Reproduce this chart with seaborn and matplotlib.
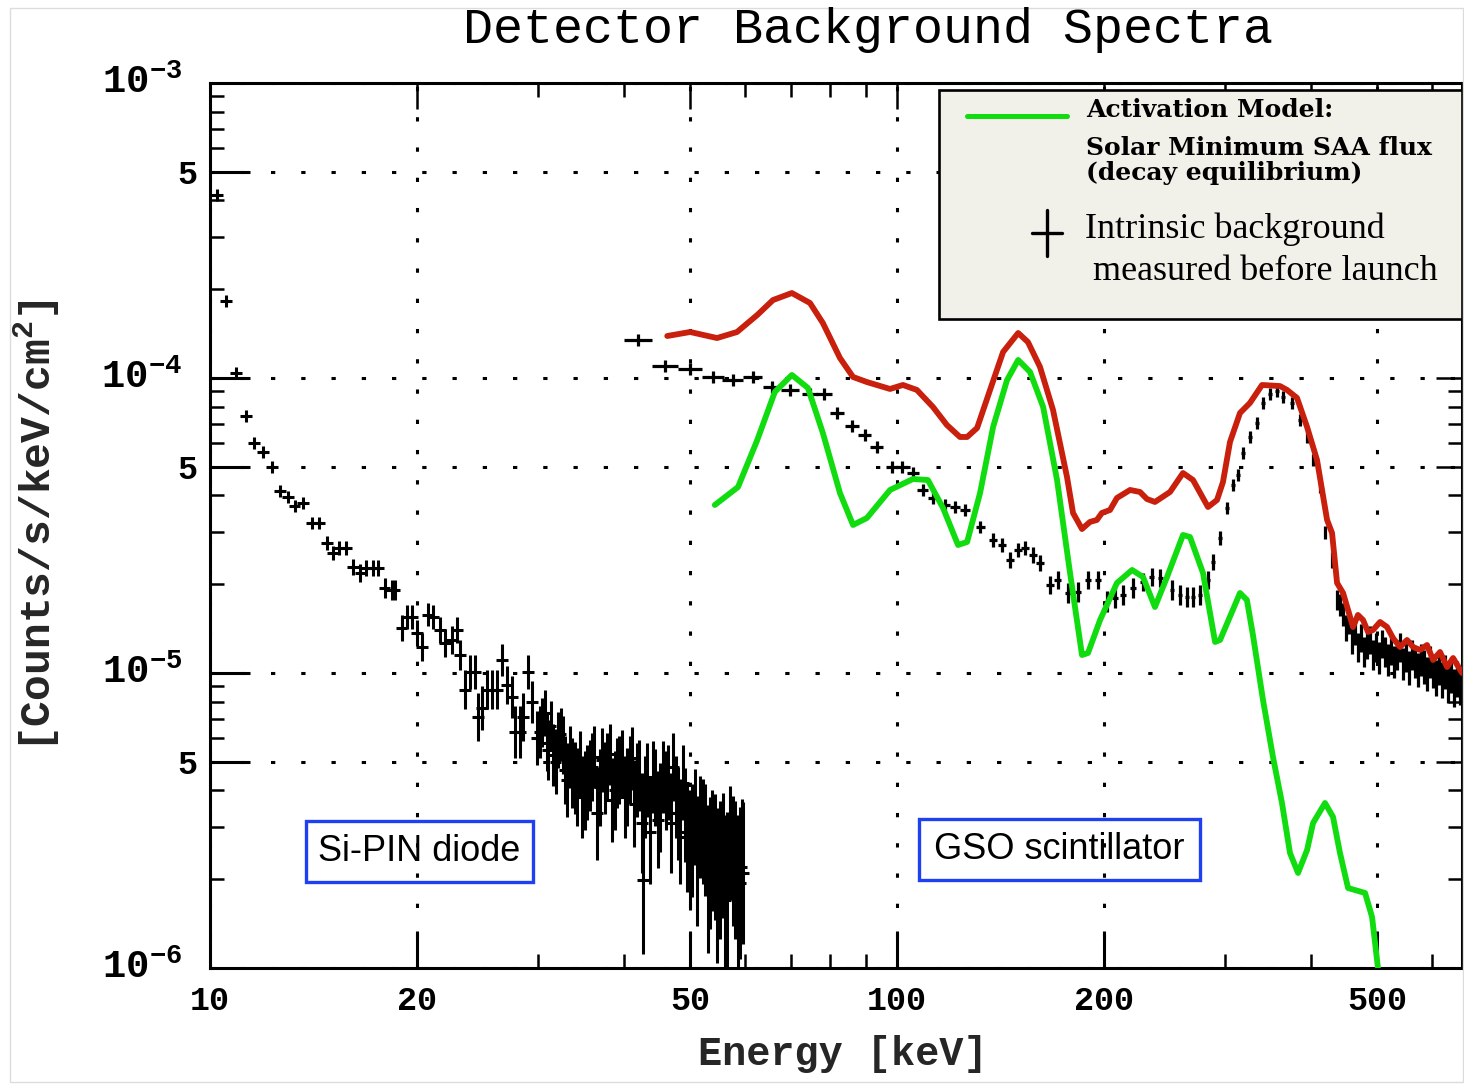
import numpy as np
import pandas as pd
import matplotlib
matplotlib.use("Agg")
import matplotlib.pyplot as plt
import matplotlib.transforms as mtransforms
import seaborn as sns
from matplotlib.patches import Rectangle
from matplotlib.ticker import NullFormatter

# ---------------- data (energies in keV, rates in 1e-5 counts/s/keV/cm^2) ----------------
total_E = [46.3, 50.0, 54.7, 58.5, 62.6, 66.0, 70.3, 74.7, 78.0, 82.6, 86.3, 90.4, 97.7, 102.0,
           106.9, 112.8, 118.2, 123.5, 126.5, 130.8, 136.6, 142.7, 150.1, 155.1, 161.5, 168.7,
           176.8, 180.4, 185.9, 190.9, 195.4, 198.7, 204.2, 209.0, 218.4, 225.8, 231.1, 237.4,
           249.7, 260.8, 269.7, 283.6, 292.3, 298.2, 305.3, 315.7, 326.4, 339.9, 361.0, 369.6,
           382.2, 395.3, 408.7, 422.7, 429.8, 437.1, 446.0, 461.1, 468.8, 476.9, 484.9, 493.1,
           504.8, 516.8, 527.2, 539.8, 552.6, 563.9, 577.3, 590.9, 603.0, 617.2, 632.0, 644.9, 664.4]
total_Y = [13.88, 14.32, 13.66, 14.32, 16.35, 18.38, 19.41, 17.96, 15.36, 11.69, 10.08, 9.69,
           9.18, 9.47, 9.11, 7.98, 6.93, 6.31, 6.31, 6.77, 9.11, 12.25, 14.21, 13.24, 10.90, 7.79,
           4.617, 3.487, 3.077, 3.251, 3.302, 3.487, 3.569, 3.920, 4.173, 4.108, 3.889, 3.800,
           4.108, 4.764, 4.510, 3.653, 3.859, 4.441, 6.07, 7.61, 8.23, 9.47, 9.39, 9.11, 8.56,
           6.82, 5.272, 3.302, 2.983, 2.019, 1.867, 1.432, 1.573, 1.512, 1.377, 1.399, 1.489,
           1.432, 1.314, 1.225, 1.294, 1.225, 1.197, 1.244, 1.107, 1.178, 1.048, 1.124, 1.000]

model_E = [54.3, 58.7, 62.6, 66.4, 70.3, 74.2, 78.0, 82.6, 86.3, 90.4, 97.7, 105.5, 110.9, 116.7,
           122.7, 126.5, 132.1, 138.0, 144.6, 150.1, 156.2, 163.2, 171.0, 178.6, 185.9, 189.7,
           197.5, 209.0, 219.9, 228.1, 237.4, 247.2, 260.8, 267.0, 278.9, 290.4, 295.3, 315.7,
           323.1, 329.7, 341.0, 352.6, 363.4, 373.3, 383.5, 395.3, 403.3, 419.8, 431.2, 441.4,
           453.5, 480.1, 491.5, 501.3]
model_Y = [3.711, 4.271, 6.16, 8.97, 10.24, 9.25, 6.51, 4.075, 3.175, 3.353, 4.173, 4.546, 4.510,
           3.625, 2.716, 2.781, 4.075, 6.82, 9.84, 11.51, 10.48, 7.98, 4.510, 2.183, 1.151, 1.169,
           1.512, 2.019, 2.235, 2.115, 1.674, 2.115, 2.937, 2.891, 2.183, 1.274, 1.294, 1.867,
           1.768, 1.345, 0.810, 0.519, 0.3625, 0.2454, 0.2100, 0.2512, 0.3101, 0.3625, 0.3251,
           0.2454, 0.1867, 0.1796, 0.1489, 0.100]

pin_E = [10.24, 10.55, 10.91, 11.28, 11.59, 11.94, 12.31, 12.64, 12.99, 13.29,
         13.66, 14.07, 14.41, 14.80, 15.10, 15.41, 15.78, 16.15, 16.54, 16.87,
         17.27, 17.56, 17.97, 18.40, 18.58, 19.02, 19.35, 19.68, 20.01, 20.35,
         20.76, 21.11, 21.61, 21.98, 22.50, 22.88, 23.11, 23.50, 23.90, 24.30,
         24.55, 24.88, 25.30, 25.73, 26.16, 26.61, 27.06, 27.52, 27.80, 28.27,
         28.55, 29.03, 29.43, 29.92, 30.22, 30.73, 31.05, 31.57, 32.11, 32.65,
         33.09, 33.65, 34.22, 34.80, 35.39, 35.98, 36.59, 37.21, 37.84, 38.48,
         39.12, 39.78, 40.46, 41.14, 41.83, 42.54, 42.68, 43.26, 44.14, 44.88,
         45.64, 46.42, 47.20, 48.00, 48.81, 49.47, 49.96, 50.81, 51.67, 52.55,
         53.44, 54.33, 55.26, 56.19, 57.14, 58.11, 59.09, 59.69,
         30.47, 30.89, 31.31, 31.84, 32.38, 32.87, 33.37, 33.93, 34.51, 35.09,
         35.68, 36.28, 36.90, 37.52, 38.16, 38.80, 39.45, 40.12, 40.80, 41.48,
         42.18, 42.97, 43.70, 44.51, 45.26, 46.03, 46.81, 47.60, 48.40, 49.14,
         50.38, 51.24, 52.11, 53.00, 53.88, 54.79, 55.72, 56.66, 57.62, 58.60, 59.39]
pin_Y = [41.72, 18.24, 10.40, 7.43, 6.02, 5.61, 4.993, 4.140, 3.951, 3.682,
         3.770, 3.225, 3.225, 2.759, 2.552, 2.653, 2.653, 2.287, 2.183, 2.269,
         2.269, 2.269, 1.941, 1.912, 1.912, 1.421, 1.548, 1.548, 1.366, 1.225,
         1.573, 1.548, 1.399, 1.264, 1.294, 1.399, 1.151, 0.876, 1.008, 1.008,
         0.709, 0.761, 0.876, 0.876, 0.876, 1.107, 0.911, 0.829, 0.631, 0.631,
         0.709, 1.008, 0.797, 0.602, 0.631, 0.732, 0.548, 0.527, 0.593, 0.570,
         0.434, 0.458, 0.411, 0.380, 0.424, 0.480, 0.335, 0.507, 0.480, 0.371,
         0.458, 0.495, 0.411, 0.515, 0.434, 0.310, 0.199, 0.434, 0.444, 0.318,
         0.444, 0.424, 0.480, 0.335, 0.424, 0.278, 0.251, 0.325, 0.301, 0.272,
         0.227, 0.238, 0.215, 0.170, 0.265, 0.215, 0.194, 0.210,
         0.68, 0.58, 0.66, 0.50, 0.62, 0.47, 0.52, 0.44, 0.49, 0.40,
         0.45, 0.52, 0.41, 0.44, 0.53, 0.40, 0.47, 0.38, 0.47, 0.36,
         0.45, 0.38, 0.29, 0.41, 0.35, 0.40, 0.31, 0.38, 0.29, 0.33,
         0.27, 0.23, 0.29, 0.20, 0.25, 0.19, 0.24, 0.18, 0.23, 0.17, 0.22]

gso_E = [42.0, 46.0, 50.0, 54.0, 57.7, 61.7, 65.8, 69.9, 74.7, 78.3, 81.8, 86.0, 89.8, 93.5,
         98.3, 101.7, 105.5, 109.1, 112.8, 117.5, 121.4, 125.6, 132.1, 138.0, 142.2, 146.0,
         150.1, 153.6, 157.8, 161.5, 167.0, 171.5, 177.4, 183.4, 189.7, 196.2, 202.2, 207.7,
         213.3, 220.6, 228.1, 235.0, 241.5, 251.3, 258.2, 264.3, 269.7, 276.1, 283.6, 288.4,
         295.3, 302.3, 308.4, 313.6, 318.9, 326.4, 334.2, 341.0, 349.1, 357.4, 364.7, 375.8,
         386.0, 395.3, 403.3, 412.8, 419.8, 429.8, 437.1,
         441.4, 446.0, 450.4, 455.0, 459.5, 464.2, 468.8, 473.6, 478.4, 483.3, 488.1, 493.1,
         497.9, 503.0, 508.2, 513.2, 518.4, 523.7, 528.9, 534.3, 539.8, 545.1, 550.7, 556.3,
         561.8, 567.5, 573.3, 579.0, 584.9, 590.9, 596.8, 603.0, 609.0, 615.1, 621.4, 627.7,
         633.9, 640.4, 646.9, 653.5, 660.0, 664.4]
gso_Y = [13.45, 10.98, 10.73, 10.08, 9.84, 10.08, 9.32, 9.11, 8.83, 8.83, 7.61, 6.88, 6.41, 5.83,
         4.993, 4.993, 4.764, 4.173, 3.920, 3.711, 3.653, 3.569, 3.126, 2.824, 2.716, 2.416,
         2.612, 2.653, 2.512, 2.360, 1.988, 2.067, 1.867, 1.882, 2.067, 2.067, 1.741, 1.796,
         1.838, 1.941, 2.034, 2.115, 2.099, 1.912, 1.838, 1.810, 1.810, 1.838, 2.067, 2.378,
         2.869, 3.625, 4.338, 4.690, 5.57, 6.31, 7.04, 8.23, 8.83, 9.03, 8.62, 8.23,
         7.20, 6.31, 5.272, 4.271, 2.983, 2.416, 1.768,
         1.700, 1.573, 1.421, 1.489, 1.294, 1.377, 1.216, 1.314, 1.178, 1.244, 1.294, 1.151,
         1.216, 1.124, 1.254, 1.178, 1.107, 1.197, 1.090, 1.151, 1.216, 1.073, 1.133, 1.040,
         1.151, 1.090, 1.024, 1.107, 1.048, 0.992, 1.090, 1.016, 0.962, 1.040, 0.947, 1.008,
         0.918, 0.984, 0.890, 0.954, 0.903, 0.939]

x_major = [10, 20, 50, 100, 200, 500]
x_major_labels = ["10", "20", "50", "100", "200", "500"]
y_major = [1e-6, 5e-6, 1e-5, 5e-5, 1e-4, 5e-4, 1e-3]
y_decades = [1e-6, 1e-5, 1e-4, 1e-3]
y_decade_labels = [r"$\mathbf{10^{-6}}$", r"$\mathbf{10^{-5}}$",
                   r"$\mathbf{10^{-4}}$", r"$\mathbf{10^{-3}}$"]

# ---------------- style ----------------
sns.set_theme(style="ticks")
plt.rcParams["font.family"] = ["Liberation Mono", "DejaVu Sans"]
plt.rcParams["mathtext.fontset"] = "custom"
plt.rcParams["mathtext.rm"] = "Liberation Mono"
plt.rcParams["mathtext.bf"] = "Liberation Mono:bold"
plt.rcParams["mathtext.it"] = "Liberation Mono:italic"
plt.rcParams.update({
    "xtick.bottom": True, "xtick.top": True, "ytick.left": True, "ytick.right": True,
    "xtick.direction": "in", "ytick.direction": "in",
    "xtick.color": "black", "ytick.color": "black",
})

RED = "#c8200c"
GREEN = "#10dc10"
BLUE = "#1f3ff2"

W, H = 1464, 1084
L, R, T, B = 210, 1462, 83, 968
fig = plt.figure(figsize=(W / 100, H / 100), dpi=100)
fig.patch.set_facecolor("white")
ax = fig.add_axes([L / W, 1 - B / H, (R - L) / W, (B - T) / H])


def axc(px, py):
    return ((px - L) / (R - L), (B - py) / (B - T))


ax.set_xscale("log")
ax.set_yscale("log")
ax.set_xlim(10, 664.4)
ax.set_ylim(1e-6, 1e-3)

sc = 1e-5
tE, tY = np.array(total_E), np.array(total_Y) * sc
mE, mY = np.array(model_E), np.array(model_Y) * sc
pE, pY = np.array(pin_E), np.array(pin_Y) * sc
gE, gY = np.array(gso_E), np.array(gso_Y) * sc


def yerr_of(y, k=0.0074, p=0.9, floor=0.02):
    f = 10 ** np.maximum(floor, k * (1e-4 / y) ** p)
    return np.vstack([y - y / f, y * f - y])


fx = 1.019
ax.errorbar(pE, pY, xerr=np.vstack([pE - pE / fx, pE * fx - pE]), yerr=yerr_of(pY),
            fmt="none", ecolor="black", elinewidth=2.2, capsize=0, zorder=3)
ax.errorbar(gE, gY, xerr=2.0, yerr=yerr_of(gY),
            fmt="none", ecolor="black", elinewidth=2.3, capsize=0, zorder=3)

model_df = pd.DataFrame({"Energy": mE, "Rate": mY})
total_df = pd.DataFrame({"Energy": tE, "Rate": tY})
sns.lineplot(data=model_df, x="Energy", y="Rate", ax=ax, color=GREEN, lw=4.2,
             sort=False, estimator=None, zorder=4)
sns.lineplot(data=total_df, x="Energy", y="Rate", ax=ax, color=RED, lw=4.2,
             sort=False, estimator=None, zorder=5)

# ---------------- axes, ticks, grid ----------------
for s in ax.spines.values():
    s.set_visible(True)
    s.set_color("black")
    s.set_linewidth(2.2)

ax.set_xticks(x_major, x_major_labels, fontsize=24, fontweight="bold")
ax.set_xticks([30, 40, 60, 70, 80, 90, 300, 400, 600], minor=True)
ax.xaxis.set_minor_formatter(NullFormatter())
ax.set_yticks(y_major, ["" if v in y_decades else "5" for v in y_major],
              fontsize=24, fontweight="bold")
ymin = [m * d for d in (1e-6, 1e-5, 1e-4) for m in (2, 3, 4, 6, 7, 8, 9)]
ax.set_yticks(ymin, minor=True)
ax.yaxis.set_minor_formatter(NullFormatter())

ax.tick_params(which="both", bottom=True, left=True, top=True, right=True,
               direction="in", colors="black")
ax.tick_params(which="major", length=19, width=1.8, pad=13)
ax.tick_params(which="minor", length=10, width=1.8)
ax.tick_params(axis="y", which="major", pad=9)

# long major tick marks along the bottom and left frame (below the data)
for xv in x_major[1:]:
    ax.axvline(xv, ymin=0, ymax=37 / (B - T), color="black", lw=2.2,
               solid_capstyle="butt", zorder=2.6)
for yv in y_major[1:-1]:
    ax.axhline(yv, xmin=0, xmax=40 / (R - L), color="black", lw=2.2,
               solid_capstyle="butt", zorder=2.6)

# decade labels on the y axis, set further left than the "5" labels
yb = mtransforms.blended_transform_factory(ax.transAxes, ax.transData)
for v, lab in zip(y_decades, y_decade_labels):
    ax.text((182 - L) / (R - L), v, lab, transform=yb, ha="right", va="center",
            fontsize=28, color="black", clip_on=False)

ax.set_axisbelow(True)
ax.grid(True, which="major", color="black", lw=2.2, linestyle=(0, (1.4, 8.5)))
ax.grid(False, which="minor")

ax.set_xlabel("Energy [keV]", fontsize=29, fontweight="bold", labelpad=0)
ax.xaxis.set_label_coords(0.505, -0.076)
ax.set_ylabel(r"[Counts/s/keV/cm$^{\mathbf{2}}$]", fontsize=31, fontweight="bold")
ax.yaxis.set_label_coords(-0.118, 0.50)

fig.text(868 / W, 1 - 30 / H, "Detector Background Spectra", ha="center", va="center",
         fontsize=36, family="Liberation Mono", color="black")

# ---------------- legend box ----------------
x0, y0 = axc(939, 319)
x1, y1 = axc(1462, 90)
ax.add_patch(Rectangle((x0, y0), x1 - x0, y1 - y0, transform=ax.transAxes, facecolor="#f1f0e9",
                       edgecolor="black", lw=1.9, zorder=10, clip_on=False))
a, yy = axc(967, 116)
b, _ = axc(1067, 116)
ax.plot([a, b], [yy, yy], transform=ax.transAxes, color=GREEN, lw=3.6, zorder=11, clip_on=False)
serif_b = dict(family="DejaVu Serif", fontweight="bold", fontsize=18, color="black",
               ha="left", va="center", transform=ax.transAxes, zorder=12)
ax.text(*axc(1086, 110), "Activation Model:", **serif_b)
ax.text(*axc(1086, 148), "Solar Minimum SAA flux", **serif_b)
ax.text(*axc(1086, 173), "(decay equilibrium)", **serif_b)
cx, cy = axc(1047, 233)
hx = 15 / (R - L)
hy = 23 / (B - T)
ax.plot([cx - hx, cx + hx], [cy, cy], transform=ax.transAxes, color="black", lw=2.4, zorder=11)
ax.plot([cx, cx], [cy - hy, cy + hy], transform=ax.transAxes, color="black", lw=2.4, zorder=11)
times = dict(family="Liberation Serif", fontsize=26, color="black", ha="left", va="center",
             transform=ax.transAxes, zorder=12)
ax.text(*axc(1085, 229), "Intrinsic background", **times)
ax.text(*axc(1093, 272), "measured before launch", **times)

# ---------------- annotations ----------------
ax.text(*axc(600, 258), "total background", color=RED, fontsize=25, family="Liberation Sans",
        ha="left", va="center", zorder=6)
ax.text(*axc(1231, 561), "152", color="black", fontsize=18, family="Liberation Sans",
        ha="left", va="center", zorder=6)
ax.text(*axc(1276, 578), "Gd", color="black", fontsize=24, family="Liberation Sans",
        ha="left", va="center", zorder=6)

for (bx0, by0, bx1, by1, label) in [(306, 821, 533, 882, "Si-PIN diode"),
                                     (919, 819, 1200, 880, "GSO scintillator")]:
    u0, v0 = axc(bx0, by1)
    u1, v1 = axc(bx1, by0)
    ax.add_patch(Rectangle((u0, v0), u1 - u0, v1 - v0, transform=ax.transAxes, fill=False,
                           edgecolor=BLUE, lw=2.4, zorder=7))
    ax.text((u0 + u1) / 2, (v0 + v1) / 2, label, transform=ax.transAxes, fontsize=26,
            family="Liberation Sans", ha="center", va="center", color="black", zorder=8)

fig.add_artist(Rectangle((10 / W, 2 / H), (W - 11) / W, 1 - 10 / H, transform=fig.transFigure,
                         fill=False, edgecolor="#dcdcdc", lw=1.0))

fig.savefig("out.png", dpi=100)
